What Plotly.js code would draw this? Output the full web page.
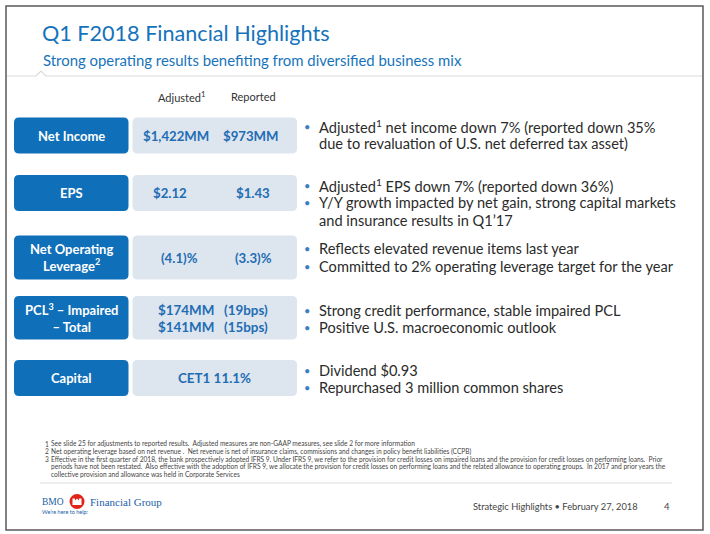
<!DOCTYPE html>
<html>
<head>
<meta charset="utf-8">
<script src="https://cdn.plot.ly/plotly-3.0.1.min.js"></script>
<style>html,body{margin:0;padding:0;background:#fff;}#chart{width:710px;height:534px;}</style>
</head>
<body>
<div id="chart"></div>
<script>
// ---------- DATA ----------
const slideTitle = 'Q1 F2018 Financial Highlights';
const slideSubtitle = 'Strong operating results benefiting from diversified business mix';
const columnHeaders = ['Adjusted<sup>1</sup>', 'Reported'];
const metricLabels = ['Net Income', 'EPS', 'Net Operating<br>Leverage<sup>2</sup>', 'PCL<sup>3</sup> – Impaired<br>– Total', 'Capital'];
const adjustedValues = ['$1,422MM', '$2.12', '(4.1)%'];
const reportedValues = ['$973MM', '$1.43', '(3.3)%'];
const pclImpaired = ['$174MM', '(19bps)'];
const pclTotal = ['$141MM', '(15bps)'];
const capitalValue = 'CET1 11.1%';
const commentary = [
  [['Adjusted<sup>1</sup> net income down 7% (reported down 35%', true], ['due to revaluation of U.S. net deferred tax asset)', false]],
  [['Adjusted<sup>1</sup> EPS down 7% (reported down 36%)', true], ['Y/Y growth impacted by net gain, strong capital markets', true], ['and insurance results in Q1’17', false]],
  [['Reflects elevated revenue items last year', true], ['Committed to 2% operating leverage target for the year', true]],
  [['Strong credit performance, stable impaired PCL', true], ['Positive U.S. macroeconomic outlook', true]],
  [['Dividend $0.93', true], ['Repurchased 3 million common shares', true]]
];
const footnotes = [
  ['1', 'See slide 25 for adjustments to reported results.  Adjusted measures are non-GAAP measures, see slide 2 for more information'],
  ['2', 'Net operating leverage based on net revenue .  Net revenue is net of insurance claims, commissions and changes in policy benefit liabilities (CCPB)'],
  ['3', 'Effective in the first quarter of 2018, the bank prospectively adopted IFRS 9. Under IFRS 9, we refer to the provision for credit losses on impaired loans and the provision for credit losses on performing loans.  Prior'],
  ['', 'periods have not been restated.  Also effective with the adoption of IFRS 9, we allocate the provision for credit losses on performing loans and the related allowance to operating groups.  In 2017 and prior years the'],
  ['', 'collective provision and allowance was held in Corporate Services']
];
const brandName = ['BMO', 'Financial Group'];
const brandTagline = 'We’re here to help:';
const footerText = 'Strategic Highlights • February 27, 2018';
const pageNumber = '4';

// ---------- LAYOUT ----------
const BLUE = '#1673bb', DARK = '#0f6fb8', LIGHT = '#dde5ef', VAL = '#1f6db3', TXT = '#2b2b2b';
const SANS = 'Lato, "Open Sans", sans-serif';
const rowTop = [117.5, 175, 235.5, 296, 360];
const rowBot = [153.5, 211, 279.5, 339.5, 396];
const adjX = [176, 170, 179];
const repX = [251, 253, 253];
const bulletY0 = [126, 185, 248.5, 310, 370];
const lineH = 17.8;
const fnY = [443.7, 451.3, 459, 466.5, 474];

function rr(x0, y0, x1, y1, r) {
  return `M${x0 + r},${y0} L${x1 - r},${y0} Q${x1},${y0} ${x1},${y0 + r} L${x1},${y1 - r} Q${x1},${y1} ${x1 - r},${y1} L${x0 + r},${y1} Q${x0},${y1} ${x0},${y1 - r} L${x0},${y0 + r} Q${x0},${y0} ${x0 + r},${y0} Z`;
}
function ann(x, y, text, size, color, opts) {
  return Object.assign({x: x, y: y, xref: 'x', yref: 'y', text: text, showarrow: false,
    xanchor: 'center', yanchor: 'middle', font: {family: SANS, size: size, color: color}}, opts || {});
}

const shapes = [];
const annotations = [];

// slide frame
shapes.push({type: 'rect', xref: 'x', yref: 'y', x0: 6, y0: 6, x1: 703, y1: 530, line: {color: '#5a5a5a', width: 1.5}, fillcolor: 'rgba(0,0,0,0)'});
// header rule with notch
shapes.push({type: 'path', xref: 'x', yref: 'y', path: 'M7,76 L36,76 L41,71 L46,76 L702,76', line: {color: '#d9d9d9', width: 1.2}});
// footer rule
shapes.push({type: 'line', xref: 'x', yref: 'y', x0: 40, y0: 483, x1: 672, y1: 483, line: {color: '#dcdcdc', width: 1}});

// title
annotations.push(ann(40, 33, slideTitle, 21.6, BLUE, {xanchor: 'left'}));
annotations.push(ann(41, 60, slideSubtitle, 14.9, BLUE, {xanchor: 'left'}));

// column headers
annotations.push(ann(181, 96, columnHeaders[0], 11, '#333'));
annotations.push(ann(253, 96, columnHeaders[1], 11, '#333'));

for (let i = 0; i < metricLabels.length; i++) {
  shapes.push({type: 'path', xref: 'x', yref: 'y', path: rr(14, rowTop[i], 128.5, rowBot[i], 5), fillcolor: DARK, line: {width: 0}});
  shapes.push({type: 'path', xref: 'x', yref: 'y', path: rr(132.5, rowTop[i], 297, rowBot[i], 5), fillcolor: LIGHT, line: {width: 0}});
  const cy = (rowTop[i] + rowBot[i]) / 2;
  annotations.push(ann(71, cy, '<b>' + metricLabels[i] + '</b>', 13, '#ffffff'));
  if (i < adjustedValues.length) {
    annotations.push(ann(adjX[i], cy, '<b>' + adjustedValues[i] + '</b>', 13.2, VAL));
    annotations.push(ann(repX[i], cy, '<b>' + reportedValues[i] + '</b>', 13.2, VAL));
  }
  commentary[i].forEach(function (ln, j) {
    const y = bulletY0[i] + j * lineH;
    if (ln[1]) annotations.push(ann(307, y, '•', 11, '#3b7fc2'));
    annotations.push(ann(317, y, ln[0], 14.6, TXT, {xanchor: 'left'}));
  });
}
// PCL values
annotations.push(ann(186, 310, '<b>' + pclImpaired[0] + '</b>', 13.4, VAL));
annotations.push(ann(246, 310, '<b>' + pclImpaired[1] + '</b>', 13.4, VAL));
annotations.push(ann(186, 326.7, '<b>' + pclTotal[0] + '</b>', 13.4, VAL));
annotations.push(ann(246, 326.7, '<b>' + pclTotal[1] + '</b>', 13.4, VAL));
// capital value
annotations.push(ann(214, 378, '<b>' + capitalValue + '</b>', 13.4, VAL));

// footnotes
footnotes.forEach(function (f, k) {
  if (f[0]) annotations.push(ann(42.5, fnY[k], f[0], 6.6, '#444', {xanchor: 'left'}));
  annotations.push(ann(48.5, fnY[k], f[1], 6.6, '#444', {xanchor: 'left'}));
});

// brand
annotations.push(ann(40, 502, brandName[0], 9.5, '#1b5ea6', {xanchor: 'left', font: {family: '"Liberation Serif", serif', size: 9.5, color: '#1b5ea6'}}));
shapes.push({type: 'circle', xref: 'x', yref: 'y', x0: 69.5, y0: 494, x1: 84.5, y1: 509, fillcolor: '#e2231a', line: {width: 0}});
shapes.push({type: 'path', xref: 'x', yref: 'y', path: 'M72.5,505 L72.5,498.5 L75,498.5 L75,500.5 L77,498.5 L79,500.5 L79,498.5 L81.5,498.5 L81.5,505 Z', fillcolor: '#ffffff', line: {width: 0}});
annotations.push(ann(88, 502, brandName[1], 11, '#1b5ea6', {xanchor: 'left', font: {family: '"Liberation Serif", serif', size: 11, color: '#1b5ea6'}}));
annotations.push(ann(40, 512, brandTagline, 5.5, '#1b5ea6', {xanchor: 'left'}));

// footer
annotations.push(ann(471, 506, footerText, 9.3, '#444', {xanchor: 'left'}));
annotations.push(ann(667, 506, pageNumber, 9.5, '#444'));

const layout = {
  width: 710, height: 534,
  margin: {l: 0, r: 0, t: 0, b: 0, pad: 0},
  paper_bgcolor: '#ffffff', plot_bgcolor: '#ffffff',
  showlegend: false,
  xaxis: {range: [0, 710], visible: false, fixedrange: true},
  yaxis: {range: [534, 0], visible: false, fixedrange: true},
  shapes: shapes,
  annotations: annotations
};
Plotly.newPlot('chart', [], layout, {displayModeBar: false, staticPlot: true});
</script>
</body>
</html>
